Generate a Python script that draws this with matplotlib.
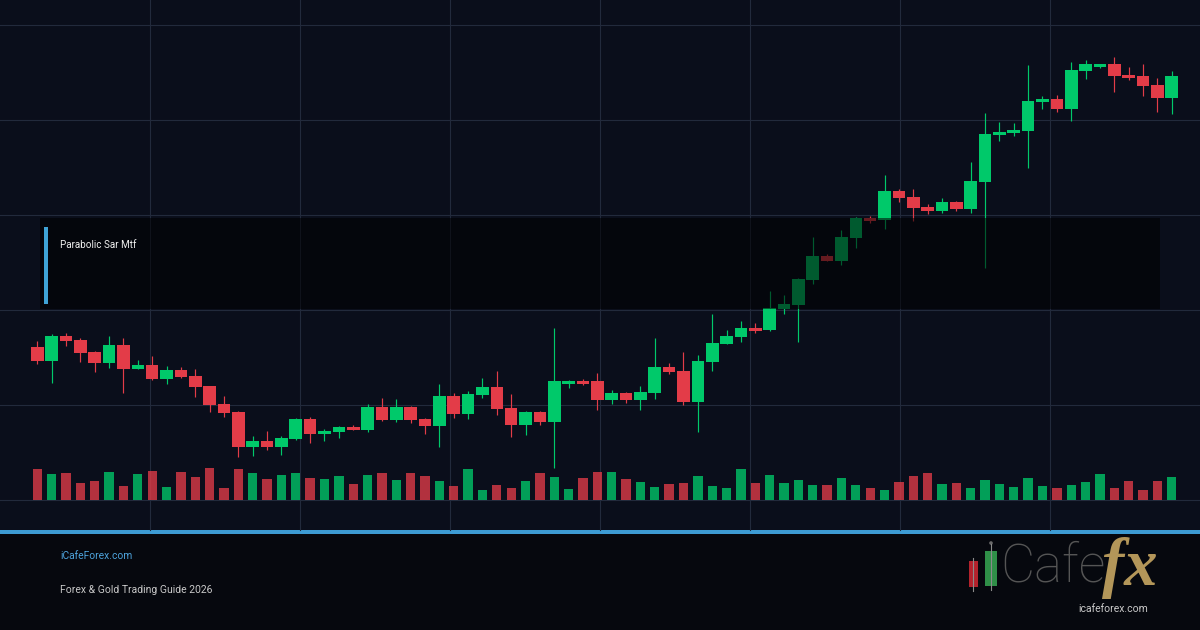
import matplotlib
matplotlib.use("Agg")
import matplotlib.pyplot as plt
from matplotlib.patches import Rectangle, Circle
import numpy as np

# OHLC (arbitrary price units)
opens = [2226.7, 2219.5, 2232.2, 2230.0, 2224.0, 2218.7, 2227.5, 2215.5, 2217.5, 2210.5,
         2215.0, 2212.0, 2207.0, 2198.0, 2194.0, 2176.5, 2179.5, 2176.5, 2180.5, 2190.5,
         2183.0, 2184.0, 2186.5, 2185.0, 2196.5, 2190.0, 2196.5, 2190.5, 2187.0, 2202.0,
         2193.0, 2202.5, 2206.5, 2196.0, 2187.5, 2194.0, 2189.0, 2208.0, 2209.5, 2209.5,
         2200.0, 2203.5, 2200.0, 2203.5, 2216.5, 2214.5, 2199.0, 2219.2, 2228.0, 2231.5,
         2236.0, 2235.0, 2245.5, 2247.5, 2260.0, 2272.0, 2269.5, 2281.0, 2291.0, 2290.0,
         2304.5, 2301.5, 2296.5, 2294.5, 2299.0, 2295.5, 2309.0, 2332.5, 2333.5, 2334.5,
         2349.0, 2350.5, 2345.5, 2364.5, 2366.5, 2368.0, 2362.5, 2362.0, 2357.5, 2351.0]
highs = [2229.5, 2233.0, 2233.5, 2231.0, 2224.3, 2232.0, 2231.0, 2220.0, 2222.0, 2217.0,
         2216.5, 2215.5, 2207.0, 2202.0, 2194.7, 2182.0, 2184.5, 2182.0, 2191.0, 2191.5,
         2185.5, 2187.0, 2187.5, 2198.0, 2201.0, 2200.5, 2197.0, 2191.0, 2208.0, 2203.5,
         2204.5, 2211.0, 2214.5, 2203.0, 2194.5, 2194.5, 2236.0, 2210.0, 2210.5, 2213.5,
         2205.0, 2204.0, 2207.0, 2231.0, 2218.5, 2224.0, 2222.5, 2243.0, 2235.0, 2239.5,
         2238.5, 2254.5, 2252.5, 2261.0, 2281.5, 2273.0, 2285.0, 2291.5, 2292.0, 2312.5,
         2305.5, 2305.5, 2298.0, 2301.0, 2299.5, 2319.0, 2343.5, 2339.0, 2338.5, 2367.5,
         2352.0, 2352.5, 2369.0, 2370.0, 2368.0, 2371.5, 2366.5, 2368.0, 2361.0, 2364.5]
lows = [2218.2, 2208.7, 2227.2, 2219.0, 2214.2, 2216.2, 2203.7, 2215.5, 2210.0, 2208.0,
        2211.0, 2201.5, 2194.0, 2191.5, 2171.5, 2172.0, 2175.0, 2172.5, 2180.0, 2178.5,
        2179.5, 2181.0, 2185.0, 2184.0, 2189.5, 2189.0, 2188.5, 2183.0, 2176.5, 2191.0,
        2190.5, 2201.0, 2192.5, 2181.7, 2182.5, 2187.5, 2166.2, 2206.0, 2207.5, 2195.2,
        2198.0, 2198.5, 2195.2, 2200.5, 2213.0, 2197.5, 2184.2, 2214.7, 2228.0, 2229.0,
        2233.5, 2234.5, 2243.0, 2229.0, 2258.0, 2269.5, 2267.5, 2276.0, 2288.5, 2285.5,
        2299.0, 2289.7, 2293.0, 2293.5, 2294.5, 2293.5, 2266.0, 2329.5, 2332.0, 2316.2,
        2345.5, 2344.0, 2339.5, 2360.5, 2366.0, 2354.0, 2360.0, 2352.0, 2344.0, 2343.0]
closes = [2219.5, 2232.2, 2229.7, 2223.7, 2218.7, 2227.5, 2215.5, 2217.5, 2210.5, 2215.0,
          2211.7, 2206.5, 2197.5, 2193.5, 2176.5, 2179.5, 2176.5, 2181.0, 2190.5, 2183.0,
          2184.5, 2186.5, 2185.0, 2196.5, 2190.0, 2196.5, 2190.0, 2187.0, 2202.0, 2193.0,
          2203.0, 2206.5, 2195.7, 2187.5, 2194.0, 2189.0, 2209.5, 2209.5, 2208.0, 2200.2,
          2203.5, 2200.0, 2204.0, 2216.5, 2214.0, 2199.0, 2219.5, 2228.5, 2232.0, 2236.0,
          2234.5, 2246.0, 2248.0, 2260.5, 2272.0, 2269.5, 2281.5, 2291.0, 2289.5, 2304.5,
          2301.0, 2296.0, 2294.5, 2299.0, 2295.5, 2309.5, 2333.0, 2334.0, 2335.0, 2349.5,
          2350.5, 2345.5, 2365.0, 2368.0, 2368.0, 2362.0, 2361.0, 2357.0, 2351.0, 2362.0]
volumes = [3100, 2600, 2700, 1700, 1900, 2800, 1400, 2600, 2900, 1300,
           2800, 2300, 3200, 1200, 3100, 2700, 2100, 2500, 2700, 2200,
           2100, 2400, 1600, 2500, 2700, 2000, 2700, 2400, 1900, 1400,
           3100, 1000, 1500, 1200, 1900, 2700, 2300, 1100, 2200, 2800,
           2800, 2100, 1800, 1300, 1600, 1700, 2400, 1400, 1200, 3100,
           1700, 2500, 1700, 2000, 1500, 1500, 2200, 1500, 1200, 1000,
           1800, 2400, 2700, 1600, 1700, 1200, 2000, 1600, 1300, 2200,
           1400, 1200, 1500, 1800, 2600, 1200, 1900, 1000, 1900, 2300]

indicator_label = "Parabolic Sar Mtf"
site_label = "iCafeForex.com"
guide_label = "Forex & Gold Trading Guide 2026"

UP = '#00c96a'
DOWN = '#e33c48'
W, H = 1200, 630
plt.rcParams['font.family'] = ['Roboto', 'DejaVu Sans']

fig = plt.figure(figsize=(12, 6.3), dpi=100)
fig.patch.set_facecolor('#06080e')

# background, grid and divider, drawn in pixel coords
bg = fig.add_axes([0, 0, 1, 1], zorder=0)
bg.set_xlim(0, W)
bg.set_ylim(H, 0)
bg.axis('off')
bg.add_patch(Rectangle((0, 0), W, 530, color='#0a0e1b', lw=0))
for gy in [25, 120, 215, 310, 405, 500]:
    bg.plot([0, W], [gy, gy], color='#222a3c', lw=0.8)
for gx in [150, 300, 450, 600, 750, 900, 1050]:
    bg.plot([gx, gx], [0, 530], color='#222a3c', lw=0.8)
bg.add_patch(Rectangle((0, 530), W, 3.5, color='#3d9bd3', lw=0))

x = np.arange(len(opens))
o = np.array(opens)
c = np.array(closes)
up = c >= o
colors = np.where(up, UP, DOWN)
x0, step = 37.3, 14.36
xlim = (-x0 / step, (W - x0) / step)

# price panel
ax = fig.add_axes([0, 100 / H, 1, 530 / H], zorder=1)
ax.set_facecolor('none')
ax.set_xlim(*xlim)
ax.set_ylim(2135, 2400)
ax.axis('off')
ax.vlines(x, lows, highs, colors=colors, lw=0.85, zorder=2)
body_lo = np.minimum(o, c)
body_h = np.maximum(np.abs(c - o), 0.6)
ax.bar(x, body_h, bottom=body_lo, width=0.88, color=colors, lw=0, zorder=3)

# volume panel
vax = fig.add_axes([0, 130 / H, 1, 100 / H], zorder=1)
vax.set_facecolor('none')
vax.set_xlim(*xlim)
vax.set_ylim(0, 10000)
vax.axis('off')
vax.bar(x, volumes, width=0.65, color=colors, alpha=0.78, lw=0)

# overlay: indicator box, footer text, logo
ov = fig.add_axes([0, 0, 1, 1], zorder=3)
ov.set_facecolor('none')
ov.set_xlim(0, W)
ov.set_ylim(H, 0)
ov.axis('off')
ov.add_patch(Rectangle((40, 218), 1120, 91, color='black', alpha=0.55, lw=0))
ov.add_patch(Rectangle((43.5, 227), 4.5, 77, color='#3fa3d6', lw=0))
ov.text(60, 245, indicator_label, color='#f0f0f0', fontsize=7.1, va='center', ha='left')

ov.text(60, 556, site_label, color='#4da3dc', fontsize=7.4, va='center', ha='left')
ov.text(60, 590, guide_label, color='#c8c8c8', fontsize=7.5, va='center', ha='left')

ov.plot([973, 973], [558, 591], color='#8a8a8a', lw=0.8)
ov.add_patch(Rectangle((968.5, 561), 9, 26, color='#b3222c', lw=0))
ov.plot([991, 991], [544, 590], color='#8a8a8a', lw=0.8)
ov.add_patch(Circle((991, 543), 1.8, color='#6a6a6a', lw=0))
ov.add_patch(Rectangle((985, 551), 12, 35, color='#2f8f48', lw=0))
ov.text(1000, 567, 'Cafe', color='#555555', fontsize=38, fontweight='light',
        va='center', ha='left', family=['Roboto', 'DejaVu Sans'])
ov.text(1102, 568, 'fx', color='#b39659', fontsize=48, fontweight='bold', style='italic',
        va='center', ha='left', family=['Liberation Serif', 'DejaVu Serif'])
ov.text(1113, 609, 'icafeforex.com', color='#c9c9c9', fontsize=7.5, va='center', ha='center')

fig.savefig('out.png', dpi=100, facecolor=fig.get_facecolor())
